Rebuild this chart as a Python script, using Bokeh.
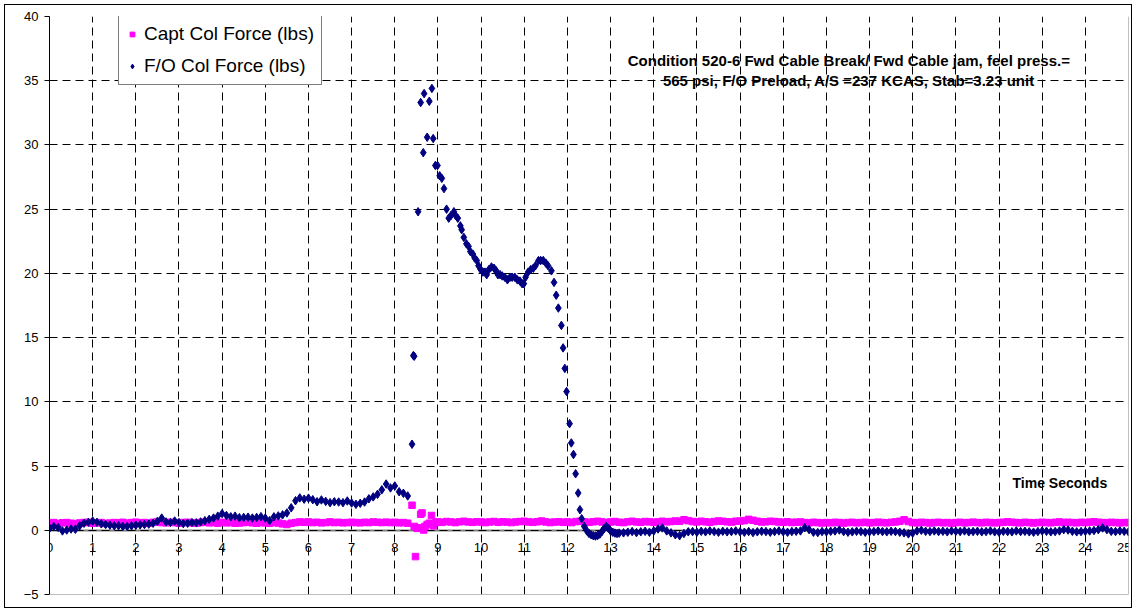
import numpy as np
from bokeh.plotting import figure
from bokeh.models import FixedTicker, Span, Label
from bokeh.embed import file_html
from bokeh.resources import INLINE

FONT = "Liberation Sans"

# ---------------- data ----------------
series_names = ["Capt Col Force (lbs)", "F/O Col Force (lbs)"]
annotation_lines = ["Condition 520-6 Fwd Cable Break/ Fwd Cable jam, feel press.=",
                    "565 psi, F/O Preload, A/S =237 KCAS, Stab=3.23 unit"]
x_title = "Time Seconds"
x_ticks = list(range(0, 26))
y_ticks = list(range(-5, 41, 5))

SAMPLE_STEP = 0.1  # seconds between samples in the regular parts

# Capt: regular samples from 0.0 s
capt_a = [0.55, 0.6, 0.52, 0.58, 0.6, 0.55, 0.5, 0.57, 0.6, 0.62,
          0.55, 0.58, 0.6, 0.53, 0.56, 0.6, 0.58, 0.62, 0.55, 0.6,
          0.63, 0.58, 0.6, 0.55, 0.62, 0.65, 0.6, 0.58, 0.62, 0.6,
          0.55, 0.6, 0.62, 0.58, 0.55, 0.6, 0.63, 0.58, 0.6, 0.55,
          0.62, 0.58, 0.6, 0.55, 0.57, 0.6, 0.62, 0.58, 0.55, 0.6,
          0.58, 0.55, 0.6, 0.57, 0.5, 0.45, 0.55, 0.6, 0.65, 0.62,
          0.65, 0.6, 0.62, 0.58, 0.6, 0.65, 0.6, 0.62, 0.58, 0.6,
          0.62, 0.6, 0.58, 0.62, 0.6, 0.65, 0.62, 0.6, 0.63, 0.6,
          0.62, 0.58, 0.6, 0.55]
# Capt: disturbance around the break
capt_spike_t = [8.40, 8.45, 8.48, 8.52, 8.56, 8.60, 8.63, 8.67, 8.70, 8.75, 8.80, 8.85, 8.90, 8.95]
capt_spike_v = [1.95, 0.3, -2.05, 0.15, 0.2, 1.25, 1.35, 0.02, 0.3, 0.45, 0.55, 1.15, 0.35, 0.6]
# Capt: regular samples from 9.0 s
capt_b = [0.65, 0.62, 0.68, 0.65, 0.6, 0.66, 0.7, 0.65, 0.62, 0.66,
          0.65, 0.6, 0.65, 0.68, 0.62, 0.66, 0.64, 0.6, 0.65, 0.68,
          0.7, 0.65, 0.62, 0.66, 0.72, 0.65, 0.6, 0.64, 0.66, 0.62,
          0.65, 0.6, 0.68, 0.7, 0.65, 0.62, 0.66, 0.7, 0.65, 0.6,
          0.65, 0.68, 0.62, 0.6, 0.66, 0.7, 0.65, 0.62, 0.68, 0.66,
          0.62, 0.65, 0.7, 0.66, 0.68, 0.72, 0.7, 0.82, 0.75, 0.68,
          0.65, 0.7, 0.66, 0.62, 0.68, 0.72, 0.7, 0.66, 0.64, 0.7,
          0.72, 0.75, 0.85, 0.78, 0.7, 0.65, 0.66, 0.7, 0.68, 0.65,
          0.62, 0.66, 0.6, 0.63, 0.65, 0.6, 0.58, 0.62, 0.6, 0.57,
          0.6, 0.58, 0.62, 0.6, 0.56, 0.6, 0.62, 0.58, 0.6, 0.62,
          0.58, 0.6, 0.63, 0.6, 0.58, 0.62, 0.65, 0.7, 0.82, 0.68,
          0.6, 0.58, 0.62, 0.6, 0.57, 0.6, 0.62, 0.58, 0.6, 0.56,
          0.6, 0.62, 0.58, 0.6, 0.63, 0.6, 0.58, 0.62, 0.6, 0.58,
          0.6, 0.62, 0.66, 0.62, 0.6, 0.58, 0.62, 0.6, 0.57, 0.6,
          0.62, 0.6, 0.58, 0.62, 0.65, 0.6, 0.62, 0.6, 0.58, 0.62,
          0.6, 0.63, 0.66, 0.62, 0.6, 0.58, 0.62, 0.6, 0.58, 0.6,
          0.6]

# F/O: regular samples from 0.0 s
fo_a = [0.15, 0.3, 0.22, -0.05, 0.02, 0.1, 0.08, 0.35, 0.55, 0.62,
        0.72, 0.62, 0.5, 0.45, 0.4, 0.35, 0.36, 0.3, 0.3, 0.35,
        0.4, 0.42, 0.45, 0.48, 0.55, 0.7, 0.95, 0.65, 0.6, 0.72,
        0.6, 0.52, 0.55, 0.6, 0.58, 0.65, 0.75, 0.85, 0.95, 1.1,
        1.3, 1.15, 1.05, 1.1, 0.98, 1.0, 1.02, 0.95, 1.0, 1.06,
        0.95, 0.75, 1.05, 1.12, 1.2, 1.35, 1.75, 2.3, 2.52, 2.42,
        2.5, 2.38, 2.22, 2.36, 2.25, 2.15, 2.22, 2.2, 2.15, 2.28,
        2.12, 2.02, 2.1, 2.2, 2.45, 2.6, 2.8, 3.15, 3.6, 3.3,
        3.45, 3.0, 2.88, 2.67]
# F/O: cable break event
fo_spike_t = [8.40, 8.43, 8.45, 8.54, 8.60, 8.66, 8.68, 8.75, 8.80, 8.86,
              8.89, 8.94, 8.99, 9.04, 9.09, 9.14, 9.20, 9.25, 9.30, 9.37,
              9.41, 9.46, 9.52, 9.55, 9.60, 9.66, 9.71, 9.75, 9.81, 9.85,
              9.90, 9.94, 9.99, 10.04, 10.09, 10.13, 10.18, 10.24, 10.30, 10.35,
              10.39, 10.44, 10.49, 10.55, 10.61, 10.67, 10.72, 10.78, 10.84, 10.90,
              10.95, 10.99, 11.03, 11.09, 11.15, 11.21, 11.26, 11.33, 11.38, 11.44,
              11.50, 11.55, 11.63, 11.69, 11.74, 11.79, 11.86, 11.90, 11.94, 11.98,
              12.05, 12.09, 12.14, 12.19, 12.25, 12.29, 12.33, 12.39, 12.45, 12.50,
              12.55, 12.60, 12.65, 12.70, 12.75, 12.80, 12.85, 12.90, 12.95, 13.00,
              13.05, 13.10, 13.15, 13.20]
fo_spike_v = [6.7, 13.6, 13.55, 24.8, 33.3, 29.4, 34.0, 30.6, 33.4, 34.4,
              30.5, 28.4, 28.4, 27.6, 27.4, 26.6, 25.0, 24.3, 24.5, 24.8,
              24.5, 24.3, 23.7, 23.4, 22.8, 22.3, 22.1, 21.7, 21.5, 21.2,
              21.0, 20.6, 20.3, 20.1, 20.1, 19.9, 20.3, 20.5, 20.4, 20.2,
              19.9, 19.9, 19.8, 19.7, 19.5, 19.7, 19.7, 19.7, 19.5, 19.4,
              19.2, 19.2, 19.7, 20.1, 20.3, 20.4, 20.6, 21.0, 21.0, 21.0,
              20.8, 20.6, 20.2, 19.3, 18.3, 17.3, 15.95, 14.2, 12.6, 10.8,
              8.3, 6.8, 5.9, 4.4, 2.9, 1.6, 0.9, 0.3, -0.05, -0.25,
              -0.35, -0.42, -0.45, -0.4, -0.3, -0.1, 0.15, 0.3, 0.15, -0.05,
              -0.15, -0.22, -0.25, -0.22]
# F/O: regular samples from 13.3 s
fo_c = [-0.2, -0.15, -0.1, -0.18, -0.12, -0.08, -0.15, -0.05, 0.1, 0.18,
        -0.05, -0.2, -0.35, -0.42, -0.25, -0.12, -0.1, -0.15, -0.08, -0.12,
        -0.05, -0.1, -0.15, -0.08, -0.12, -0.1, -0.05, -0.12, -0.15, -0.1,
        -0.18, -0.12, -0.08, -0.1, -0.15, -0.1, -0.05, -0.12, -0.15, -0.1,
        -0.08, -0.05, 0.2, 0.05, -0.15, -0.18, -0.1, -0.12, -0.08, -0.05,
        0.02, -0.1, -0.15, -0.12, -0.08, -0.1, -0.15, -0.12, -0.1, -0.05,
        -0.1, -0.12, -0.08, -0.1, -0.15, -0.2, -0.28, -0.22, -0.05, 0.0,
        -0.08, -0.1, -0.05, -0.1, -0.08, -0.12, -0.05, -0.08, -0.1, -0.05,
        -0.12, -0.1, -0.08, -0.12, -0.1, -0.05, -0.12, -0.15, -0.08, -0.1,
        -0.12, -0.05, -0.1, -0.08, -0.12, -0.15, -0.1, -0.05, -0.08, -0.12,
        -0.1, -0.05, 0.05, 0.02, -0.08, -0.12, -0.1, -0.08, -0.05, -0.02,
        0.05, 0.18, 0.05, -0.08, -0.1, -0.05, -0.08, -0.12]


def clock(start, vals):
    """sample times of a regularly sampled stretch"""
    return [round(start + SAMPLE_STEP * i, 2) for i in range(len(vals))]


capt_t = clock(0.0, capt_a) + capt_spike_t + clock(9.0, capt_b)
capt_v = capt_a + capt_spike_v + capt_b
fo_t = clock(0.0, fo_a) + fo_spike_t + clock(13.3, fo_c)
fo_v = fo_a + fo_spike_v + fo_c

# ---------------- figure ----------------
p = figure(width=1128, height=604, x_range=(0, 25), y_range=(-5, 40),
           output_backend="svg", toolbar_location=None,
           min_border_left=44, min_border_right=5, min_border_top=11, min_border_bottom=15,
           background_fill_color="white", border_fill_color="white")
p.styles = {"border": "1px solid black", "margin-left": "4px", "margin-top": "4px"}
p.outline_line_color = None

# grid
p.grid.grid_line_color = "black"
p.grid.grid_line_dash = "8 5"
p.grid.grid_line_width = 1

# x axis sits on y = 0
xa = p.xaxis[0]
xa.fixed_location = 0
xa.ticker = FixedTicker(ticks=x_ticks)
xa.axis_line_color = "#808080"
xa.axis_line_width = 2
xa.major_tick_line_color = None
xa.minor_tick_line_color = None
xa.major_label_standoff = 7
xa.major_label_text_font = FONT
xa.major_label_text_font_size = "13px"
xa.major_label_text_color = "black"
xa.level = "underlay"

ya = p.yaxis[0]
ya.ticker = FixedTicker(ticks=y_ticks)
ya.axis_line_color = "black"
ya.major_tick_out = 5
ya.major_tick_in = 0
ya.minor_tick_line_color = None
ya.major_label_standoff = 6
ya.major_label_text_font = FONT
ya.major_label_text_font_size = "13px"
ya.major_label_text_color = "black"

# plot-area right and bottom edges
p.add_layout(Span(location=25, dimension="height", line_color="#808080", line_width=1))
p.add_layout(Span(location=-5, dimension="width", line_color="#808080", line_width=1))

# series
p.scatter(capt_t, capt_v, marker="square", size=6.5, color="#FF00FF",
          legend_label=series_names[0])
p.scatter(fo_t, fo_v, marker="diamond", size=8.5, color="#000080",
          legend_label=series_names[1])

lg = p.legend[0]
lg.location = (69, 509)
lg.border_line_color = "black"
lg.border_line_width = 1
lg.background_fill_color = "white"
lg.background_fill_alpha = 1
lg.padding = 7
lg.spacing = 10
lg.margin = 0
lg.label_height = 20
lg.glyph_height = 20
lg.glyph_width = 12
lg.label_standoff = 6
lg.label_text_font = FONT
lg.label_text_font_size = "19px"
lg.label_text_color = "black"

# annotations
for txt, yv in zip(annotation_lines, [36.6, 35.0]):
    p.add_layout(Label(x=18.52, y=yv, text=txt, text_align="center", text_baseline="middle",
                       text_font=FONT, text_font_size="15px", text_font_style="bold",
                       text_color="black"))
p.add_layout(Label(x=23.41, y=3.7, text=x_title, text_align="center", text_baseline="middle",
                   text_font=FONT, text_font_size="14px", text_font_style="bold",
                   text_color="black"))

open("out.html", "w").write(file_html(p, INLINE))
